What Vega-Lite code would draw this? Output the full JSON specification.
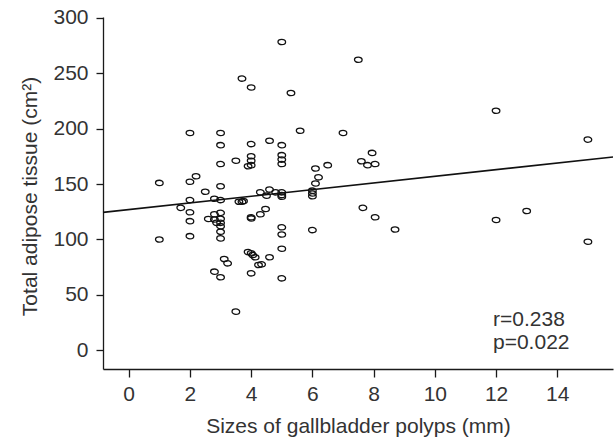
{
  "$schema": "https://vega.github.io/schema/vega-lite/v6.json",
  "width": 510,
  "height": 352,
  "autosize": "none",
  "padding": {"left": 103, "top": 17, "right": 3, "bottom": 70},
  "background": "white",
  "config": {
    "view": {"stroke": null},
    "font": "Liberation Sans",
    "axis": {
      "grid": false,
      "domainColor": "#1a1a1a",
      "domainWidth": 1.3,
      "tickColor": "#1a1a1a",
      "tickWidth": 1.3,
      "labelColor": "#333333",
      "titleColor": "#333333",
      "labelFont": "Liberation Sans",
      "titleFont": "Liberation Sans",
      "labelFontSize": 21,
      "titleFontSize": 21,
      "titleFontWeight": "normal"
    }
  },
  "datasets": {
    "pts": [
      {"size": 5, "tissue": 278}, {"size": 3.7, "tissue": 245}, {"size": 4, "tissue": 237},
      {"size": 5.3, "tissue": 232}, {"size": 7.5, "tissue": 262}, {"size": 2, "tissue": 196},
      {"size": 3, "tissue": 196}, {"size": 5.6, "tissue": 198}, {"size": 7, "tissue": 196},
      {"size": 3, "tissue": 185}, {"size": 4, "tissue": 186}, {"size": 4.6, "tissue": 189},
      {"size": 5, "tissue": 185}, {"size": 3, "tissue": 168}, {"size": 3.5, "tissue": 171},
      {"size": 3.9, "tissue": 166}, {"size": 4, "tissue": 175}, {"size": 4, "tissue": 171},
      {"size": 4, "tissue": 167}, {"size": 5, "tissue": 176}, {"size": 5, "tissue": 172},
      {"size": 5, "tissue": 168}, {"size": 2.2, "tissue": 157}, {"size": 1, "tissue": 151},
      {"size": 2, "tissue": 152}, {"size": 2.5, "tissue": 143}, {"size": 3, "tissue": 148},
      {"size": 2, "tissue": 135.5}, {"size": 2.8, "tissue": 136.7}, {"size": 3, "tissue": 135.5},
      {"size": 1.7, "tissue": 128.5}, {"size": 3.6, "tissue": 134}, {"size": 3.7, "tissue": 134},
      {"size": 3.75, "tissue": 134.7}, {"size": 4.3, "tissue": 142.5}, {"size": 4.6, "tissue": 145},
      {"size": 4.5, "tissue": 139.5}, {"size": 4.8, "tissue": 142.5}, {"size": 5, "tissue": 142.5},
      {"size": 5, "tissue": 140}, {"size": 5, "tissue": 138.5}, {"size": 6, "tissue": 144},
      {"size": 6, "tissue": 141.5}, {"size": 6, "tissue": 139}, {"size": 6.5, "tissue": 167},
      {"size": 6.1, "tissue": 164}, {"size": 6.2, "tissue": 156}, {"size": 6.1, "tissue": 150.5},
      {"size": 7.6, "tissue": 170.5}, {"size": 7.95, "tissue": 178}, {"size": 7.8, "tissue": 167},
      {"size": 8.05, "tissue": 168}, {"size": 7.65, "tissue": 128.5}, {"size": 8.05, "tissue": 120},
      {"size": 8.7, "tissue": 109}, {"size": 6, "tissue": 108.5}, {"size": 5, "tissue": 111},
      {"size": 5, "tissue": 104.5}, {"size": 5, "tissue": 91.7}, {"size": 5, "tissue": 65},
      {"size": 2, "tissue": 124.5}, {"size": 2, "tissue": 116.5}, {"size": 2, "tissue": 103},
      {"size": 1, "tissue": 100}, {"size": 2.6, "tissue": 118.5}, {"size": 2.8, "tissue": 122.7},
      {"size": 2.8, "tissue": 118}, {"size": 2.87, "tissue": 115}, {"size": 3, "tissue": 124},
      {"size": 3, "tissue": 118.7}, {"size": 3, "tissue": 115}, {"size": 3, "tissue": 112},
      {"size": 3, "tissue": 107}, {"size": 3, "tissue": 101}, {"size": 4, "tissue": 120},
      {"size": 4, "tissue": 119}, {"size": 4.3, "tissue": 122.7}, {"size": 4.47, "tissue": 127.5},
      {"size": 3.9, "tissue": 88.7}, {"size": 4, "tissue": 87.6}, {"size": 4.05, "tissue": 86},
      {"size": 4.13, "tissue": 84}, {"size": 4.6, "tissue": 84}, {"size": 4.24, "tissue": 77},
      {"size": 4.34, "tissue": 77.6}, {"size": 4, "tissue": 69.5}, {"size": 3.12, "tissue": 82.4},
      {"size": 3.23, "tissue": 78.5}, {"size": 2.8, "tissue": 71}, {"size": 3, "tissue": 66},
      {"size": 3.5, "tissue": 35}, {"size": 12, "tissue": 216}, {"size": 15, "tissue": 190},
      {"size": 12, "tissue": 117.6}, {"size": 13, "tissue": 125.7}, {"size": 15, "tissue": 98}
    ],
    "fit": [
      {"size": -0.84, "tissue": 124.4},
      {"size": 15.82, "tissue": 174.4}
    ],
    "ann": [
      {"size": 11.9, "tissue": 22.1, "label": "r=0.238"},
      {"size": 11.9, "tissue": 1.3, "label": "p=0.022"}
    ]
  },
  "encoding": {
    "x": {
      "field": "size", "type": "quantitative",
      "scale": {"domain": [-0.84, 15.82], "nice": false, "zero": false},
      "axis": {
        "title": "Sizes of gallbladder polyps (mm)",
        "values": [0, 2, 4, 6, 8, 10, 12, 14],
        "tickSize": 8, "labelPadding": 6, "titlePadding": 11
      }
    },
    "y": {
      "field": "tissue", "type": "quantitative",
      "scale": {"domain": [-16.7, 300.5], "nice": false, "zero": false},
      "axis": {
        "title": "Total adipose tissue (cm²)",
        "values": [0, 50, 100, 150, 200, 250, 300],
        "tickSize": 7, "labelPadding": 8, "titlePadding": 12, "titleY": 179
      }
    }
  },
  "layer": [
    {
      "data": {"name": "pts"},
      "mark": {
        "type": "point",
        "shape": "M -1 0 C -1 -0.38 -0.5523 -0.7 0 -0.7 C 0.5523 -0.7 1 -0.38 1 0 C 1 0.38 0.5523 0.7 0 0.7 C -0.5523 0.7 -1 0.38 -1 0 Z",
        "size": 58,
        "filled": false,
        "stroke": "#111111",
        "strokeWidth": 1.3,
        "opacity": 1
      }
    },
    {
      "data": {"name": "fit"},
      "mark": {"type": "line", "color": "#111111", "strokeWidth": 1.6}
    },
    {
      "data": {"name": "ann"},
      "mark": {"type": "text", "align": "left", "baseline": "alphabetic", "fontSize": 21, "color": "#333333", "font": "Liberation Sans"},
      "encoding": {"text": {"field": "label"}}
    }
  ]
}
